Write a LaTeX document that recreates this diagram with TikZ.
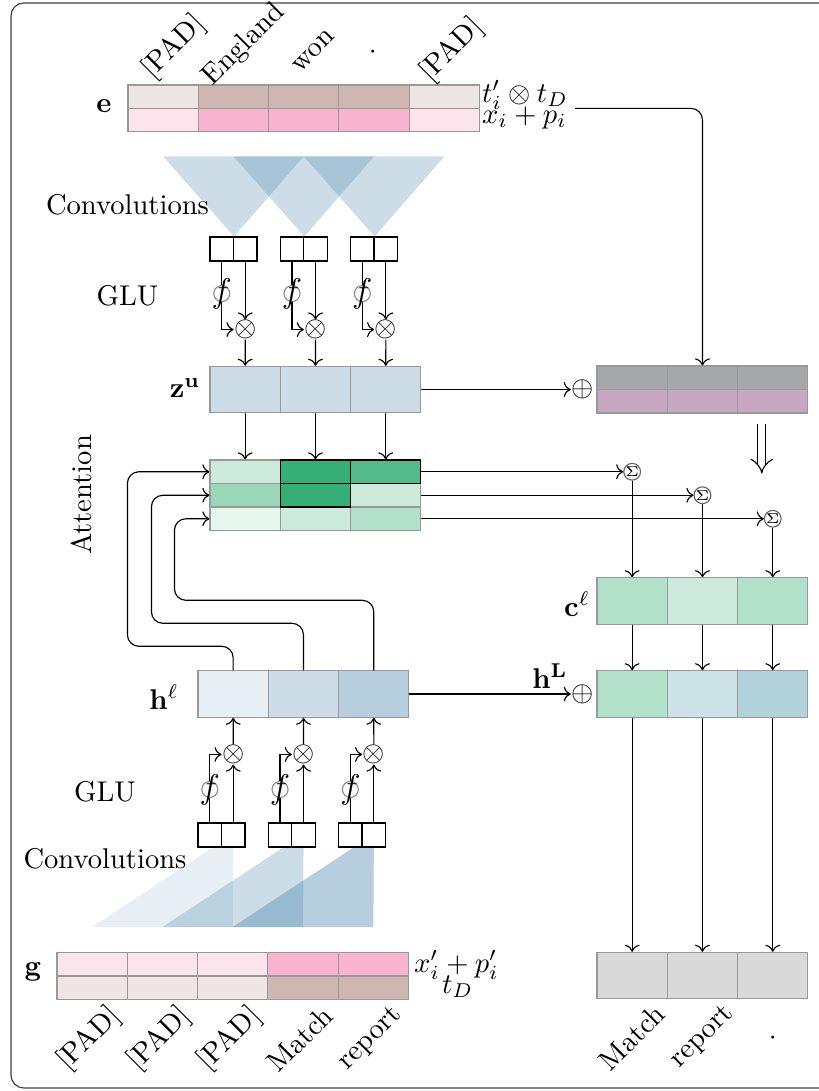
\documentclass[tikz,border=0pt]{standalone}
\usepackage{amsmath,amssymb}
\usepackage{tikz}
\usetikzlibrary{calc,positioning,arrows.meta,backgrounds}
\definecolor{convblue}{RGB}{67,130,170}
\definecolor{attgreen}{RGB}{53,175,118}
\definecolor{padtype}{RGB}{237,230,229}
\definecolor{wordtype}{RGB}{205,183,176}
\definecolor{padtok}{RGB}{251,228,236}
\definecolor{wordtok}{RGB}{248,180,206}
\definecolor{mixgrey}{RGB}{166,168,172}
\definecolor{mixpurple}{RGB}{199,166,193}
\definecolor{hmixb}{RGB}{203,227,230}
\definecolor{hmixc}{RGB}{179,211,220}
\definecolor{outgrey}{RGB}{217,217,217}

\begin{document}
\begin{tikzpicture}[x=0.35pt,y=-0.35pt]

\tikzset{cell/.style={draw=black!40,inner sep=0pt,minimum width=24.6pt,minimum height=16.2pt},
halfcell/.style={cell,minimum height=8.2pt},
convbox/.style={draw,fill=white,inner sep=0pt,minimum width=8.2pt,minimum height=8.4pt},
gate/.style={circle,draw=black!45,inner sep=0pt,minimum size=5.6pt,label={[text=black,inner sep=0pt,font=\large]center:$f$}},
op/.style={inner sep=0pt},
sumnode/.style={circle,draw=black!60,inner sep=0pt,minimum size=5.6pt,font=\tiny},
conv/.style={fill=convblue,fill opacity=0.27},
toplab/.style={rotate=45},
link/.style={->,rounded corners=4pt}}

\useasboundingbox (0,0) rectangle (819,1091);
\draw[rounded corners=4.5pt,black!75] (11,3) rectangle (880,1088);

% Encoder input e
\foreach \k/\ct/\cx in {1/padtype/padtok,2/wordtype/wordtok,3/wordtype/wordtok,4/wordtype/wordtok,5/padtype/padtok}{
  \node[halfcell,fill=\ct] (et\k) at ({163.15+70.3*(\k-1)},96.7) {};
  \node[halfcell,fill=\cx] (ex\k) at ({163.15+70.3*(\k-1)},120.1) {};
}
\node (elab) at (104,106) {$\mathbf{e}$};
\node[anchor=base west] (etlab) at (472,102) {$t'_i \otimes t_D$};
\node[anchor=base west] (exlab) at (472,123) {$x_i + p_i$};
\foreach \k/\w/\xx/\yy in {1/{[PAD]}/174/47,2/England/244/45,3/won/314/51,4/./373/52,5/{[PAD]}/452/50}
  \node[toplab] (ew\k) at (\xx,\yy) {\w};

% Convolutions + GLU (top)
\node (convtop) at (127.5,205) {Convolutions};
\node (glutop) at (127.5,296) {GLU};
\foreach \k in {1,2,3}{
  \node[convbox] (ga\k) at ({221.75+70.3*(\k-1)},249) {};
  \node[convbox] (gb\k) at ({245.25+70.3*(\k-1)},249) {};
  \node[gate] (fa\k) at ($(ga\k.south)+(0,32)$) {};
  \node[op] (ma\k) at ($(gb\k.south)+(0,68)$) {$\otimes$};
}
\begin{scope}[on background layer]
\foreach \k [evaluate=\k as \kk using int(\k+2)] in {1,2,3}
  \fill[conv] ($(ex\k.south)+(0,24)$) -- ($(ex\kk.south)+(0,24)$) -- (ga\k.north east) -- cycle;
\end{scope}

% z^u
\foreach \k in {1,2,3}
  \node[cell,fill=convblue!27] (zu\k) at ({245.15+70.3*(\k-1)},389.5) {};
\node (zulab) at (185,388) {$\mathbf{z}^{\mathbf{u}}$};
\foreach \k in {1,2,3}{
  \draw (ga\k) -- (fa\k);
  \draw[->] (fa\k) |- (ma\k);
  \draw[->] (gb\k) -- (ma\k);
  \draw[->] (ma\k) -- (zu\k);
}

% right block
\foreach \k in {1,2,3}{
  \node[halfcell,fill=mixgrey] (rt\k) at ({632.15+70.3*(\k-1)},377.75) {};
  \node[halfcell,fill=mixpurple] (rb\k) at ({632.15+70.3*(\k-1)},401.25) {};
}
\node[op] (plusu) at ($(zu3.east)+(161,0)$) {$\oplus$};
\draw[->] (zu3) -- (plusu);
\coordinate (efeed) at (575,108.4);
\draw[link] (efeed) -| (rt2.north);
\coordinate (mixout) at ($(rb3.south)+(-11,10)$);
\coordinate (mixin) at ($(rb3.south)+(-11,60)$);
\draw[double,double distance=2.4pt,-{Implies}] (mixout) -- (mixin);

% Attention
\node[rotate=90] (attlab) at (81,495) {Attention};
\foreach \r/\ca/\cb/\cc in {1/attgreen!25/attgreen/attgreen!85,2/attgreen!50/attgreen/attgreen!25,3/attgreen!12/attgreen!25/attgreen!38}{
  \node[halfcell,fill=\ca] (att\r1) at (245.15,{471.75+23.5*(\r-1)}) {};
  \node[halfcell,fill=\cb] (att\r2) at (315.45,{471.75+23.5*(\r-1)}) {};
  \node[halfcell,fill=\cc] (att\r3) at (385.75,{471.75+23.5*(\r-1)}) {};
}
\node[halfcell,draw=black] (hi12) at (att12) {};
\node[halfcell,draw=black] (hi13) at (att13) {};
\node[halfcell,draw=black] (hi22) at (att22) {};
\foreach \k in {1,2,3}
  \draw[->] (zu\k) -- (att1\k);

% c^l and h^L
\foreach \k/\cc/\ch in {1/attgreen!38/attgreen!38,2/attgreen!25/hmixb,3/attgreen!38/hmixc}{
  \node[cell,fill=\cc] (cl\k) at ({632.15+70.3*(\k-1)},601) {};
  \node[cell,fill=\ch] (hL\k) at ({632.15+70.3*(\k-1)},694) {};
  \node[cell,fill=outgrey] (out\k) at ({632.15+70.3*(\k-1)},975.5) {};
}
\node (cllab) at (577,604) {$\mathbf{c}^{\ell}$};
\node (hLlab) at (550,676) {$\mathbf{h}^{\mathbf{L}}$};
\foreach \k in {1,2,3}{
  \node[sumnode] (sum\k) at (cl\k |- att\k1) {$\Sigma$};
  \draw[->] (att\k3) -- (sum\k);
  \draw[->] (sum\k) -- (cl\k);
  \draw[->] (cl\k) -- (hL\k);
  \draw[->] (hL\k) -- (out\k);
}

% Decoder h^l
\foreach \k/\ch in {1/convblue!13,2/convblue!27,3/convblue!39}
  \node[cell,fill=\ch] (hl\k) at ({233.15+70.3*(\k-1)},694) {};
\node (hllab) at (164,697) {$\mathbf{h}^{\ell}$};
\node[op] (plusL) at ($(hl3.east)+(173,0)$) {$\oplus$};
\draw[->] (hl3) -- (plusL);
\draw[link] (hl1.north) -- ++(0,-24) -| ($(att11.west)+(-82,0)$) -- (att11.west);
\draw[link] (hl2.north) -- ++(0,-47) -| ($(att21.west)+(-58,0)$) -- (att21.west);
\draw[link] (hl3.north) -- ++(0,-70) -| ($(att31.west)+(-35,0)$) -- (att31.west);

% Convolutions + GLU (bottom)
\node (glubot) at (105,792) {GLU};
\node (convbot) at (105,859) {Convolutions};
\foreach \k in {1,2,3}{
  \node[convbox] (gc\k) at ({209.75+70.3*(\k-1)},835) {};
  \node[convbox] (gd\k) at ({233.25+70.3*(\k-1)},835) {};
  \node[gate] (fc\k) at ($(gc\k.north)+(0,-33)$) {};
  \node[op] (mc\k) at ($(gd\k.north)+(0,-68)$) {$\otimes$};
  \draw (gc\k) -- (fc\k);
  \draw[->] (fc\k) |- (mc\k);
  \draw[->] (gd\k) -- (mc\k);
  \draw[->] (mc\k) -- (hl\k);
}

% Decoder input g
\foreach \k/\cx/\ct in {1/padtok/padtype,2/padtok/padtype,3/padtok/padtype,4/wordtok/wordtype,5/wordtok/wordtype}{
  \node[halfcell,fill=\cx] (gx\k) at ({92.15+70.3*(\k-1)},964.3) {};
  \node[halfcell,fill=\ct] (gt\k) at ({92.15+70.3*(\k-1)},987.7) {};
}
\begin{scope}[on background layer]
\foreach \k/\op [evaluate=\k as \kk using int(\k+2)] in {1/0.13,2/0.27,3/0.39}
  \fill[conv,fill opacity=\op] ($(gx\k.north)+(0,-25)$) -- ($(gc\k.south)+(3,0)$) -- (gd\k.south) -- ($(gx\kk.north)+(0,-25)$) -- cycle;
\end{scope}
\node (glab) at (33,972) {$\mathbf{g}$};
\node[anchor=base west] (gxlab) at (404,972) {$x'_i + p'_i$};
\node[anchor=base west] (gtlab) at (432,993) {$t_D$};
\foreach \k/\w in {1/{[PAD]},2/{[PAD]},3/{[PAD]},4/Match,5/report}
  \node[toplab] (gw\k) at ($(gt\k.south)+(-3,39)$) {\w};
\foreach \k/\w in {1/Match,2/report,3/.}
  \node[toplab] (ow\k) at ($(out\k.south)+(0,38)$) {\w};

\end{tikzpicture}
\end{document}
